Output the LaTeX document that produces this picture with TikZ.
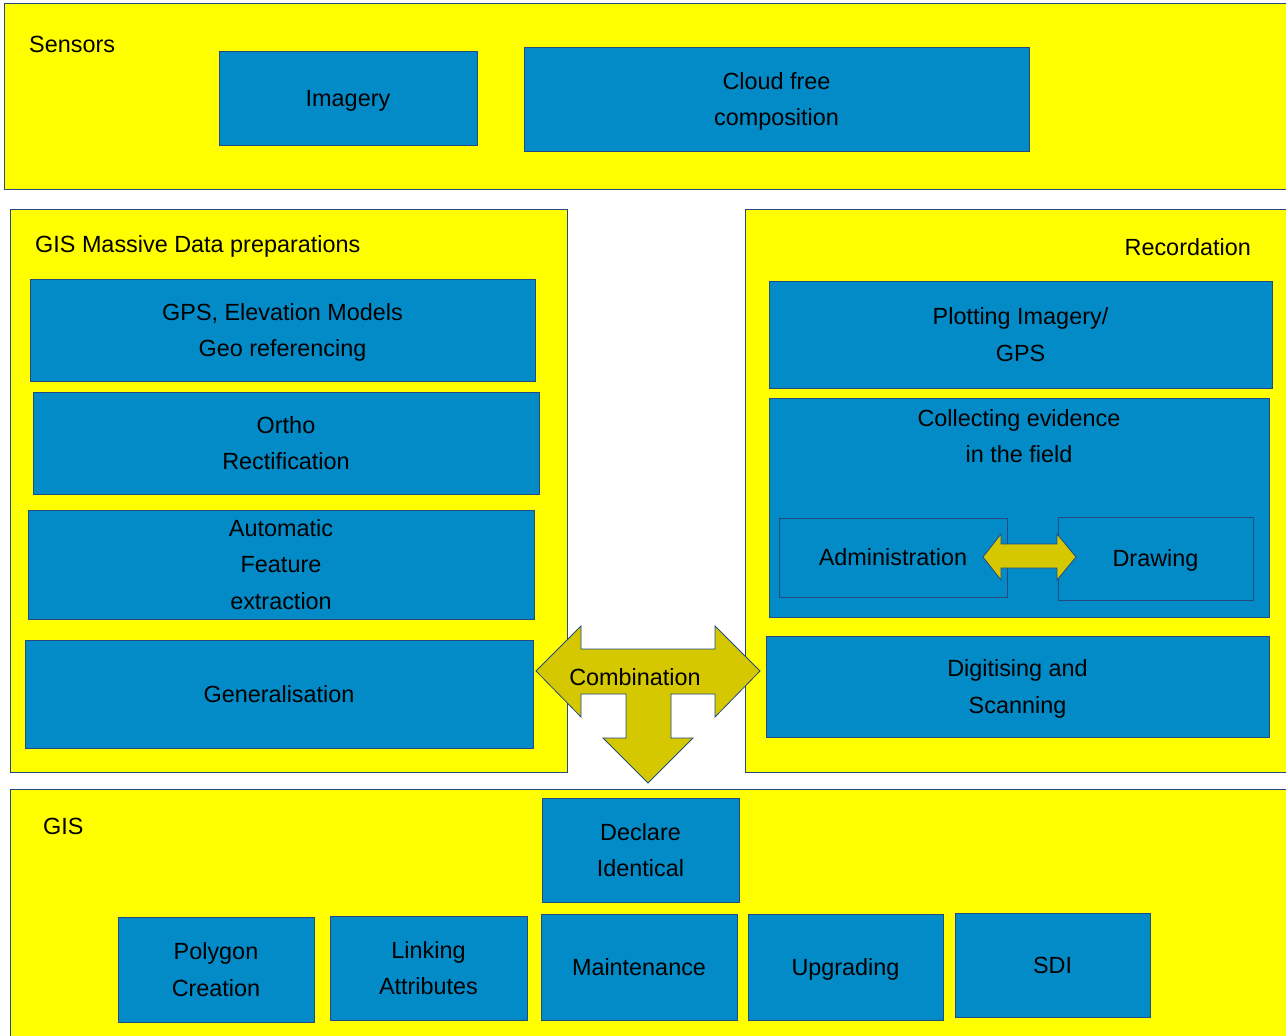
\documentclass[tikz,border=0pt]{standalone}
\usepackage{fontspec}
\setmainfont{Liberation Sans}
\usetikzlibrary{positioning}
\definecolor{panelyellow}{RGB}{255,255,0}
\definecolor{boxblue}{RGB}{3,139,200}
\definecolor{edgeblue}{RGB}{35,75,130}
\definecolor{arrowgold}{RGB}{214,200,0}

\begin{document}
\begin{tikzpicture}[x=1pt,y=-1pt,
    panel/.style={draw=edgeblue,fill=panelyellow,line width=0.8pt},
    blk/.style={draw=edgeblue,fill=boxblue,line width=0.8pt,align=center,inner sep=0pt},
    txt/.style={font=\fontsize{23.4}{36.7}\selectfont,align=center,inner sep=0pt,text depth=0pt},
    bigarrow/.style={draw=edgeblue,fill=arrowgold,line width=0.8pt,line join=miter}]
        \useasboundingbox (0,0) rectangle (1286,1036);
        %% Draw the four panels.
        \draw[panel] (4,3) rectangle (1290,189);
        \draw[panel] (10,209) rectangle (567,772);
        \draw[panel] (745,209) rectangle (1290,772);
        \draw[panel] (10,789) rectangle (1290,1040);
        \node[txt,anchor=base west] (sens) at (29,52.3) {Sensors};
        \node[txt,anchor=base west] (prep) at (35,252) {GIS Massive Data preparations};
        \node[txt,anchor=base east] (rec) at (1251,255) {Recordation};
        \node[txt,anchor=base west] (gis) at (43,834) {GIS};
        %% Sensors
        \node[blk,txt,minimum width=258,minimum height=94] (img) at (348,98) {Imagery};
        \node[blk,txt,minimum width=505,minimum height=104] (cloud) at (776.5,99) {Cloud free\\composition};
        %% Data preparations
        \node[blk,txt,minimum width=505,minimum height=102] (gps) at (282.5,330) {GPS, Elevation Models\\Geo referencing};
        \node[blk,txt,minimum width=506,minimum height=102] (ortho) at (286,443) {Ortho\\Rectification};
        \node[blk,txt,minimum width=506,minimum height=109] (auto) at (281,564.5) {Automatic\\Feature\\extraction};
        \node[blk,txt,minimum width=508,minimum height=108] (gen) at (279,694) {Generalisation};
        %% Recordation
        \node[blk,txt,minimum width=503,minimum height=107] (plot) at (1020.5,334.5) {Plotting Imagery/\\GPS};
        \node[blk,minimum width=500,minimum height=219] (coll) at (1019,507.5) {};
        \node[txt] (colltxt) at (1019,436) {Collecting evidence\\in the field};
        \node[blk,txt,minimum width=228,minimum height=79] (adm) at (893,557.5) {Administration};
        \node[blk,txt,minimum width=195,minimum height=83] (drw) at (1155.5,558.5) {Drawing};
        \node[blk,txt,minimum width=503,minimum height=101] (dig) at (1017.5,686.5) {Digitising and\\Scanning};
        \draw[bigarrow] (983,557) -- (1001,534) -- (1001,544) -- (1057,544) -- (1057,534)
          -- (1076,557) -- (1057,580) -- (1057,568) -- (1001,568) -- (1001,580) -- cycle;
        %% Combination arrow
        \draw[bigarrow] (536,671) -- (581,626) -- (581,649) -- (715,649) -- (715,626)
          -- (760,671) -- (715,717) -- (715,694) -- (671,694) -- (671,738) -- (693,738)
          -- (648,783) -- (603,738) -- (626,738) -- (626,694) -- (581,694) -- (581,717) -- cycle;
        \node[txt,anchor=base] (comb) at (635,685) {Combination};
        %% GIS
        \node[blk,txt,minimum width=197,minimum height=104] (decl) at (640.5,850) {Declare\\Identical};
        \node[blk,txt,minimum width=196,minimum height=105] (poly) at (216,969.5) {Polygon\\Creation};
        \node[blk,txt,minimum width=197,minimum height=104] (link) at (428.5,968) {Linking\\Attributes};
        \node[blk,txt,minimum width=196,minimum height=106] (maint) at (639,967) {Maintenance};
        \node[blk,txt,minimum width=195,minimum height=106] (upg) at (845.5,967) {Upgrading};
        \node[blk,txt,minimum width=195,minimum height=104] (sdi) at (1052.5,965) {SDI};
\end{tikzpicture}
\end{document}
